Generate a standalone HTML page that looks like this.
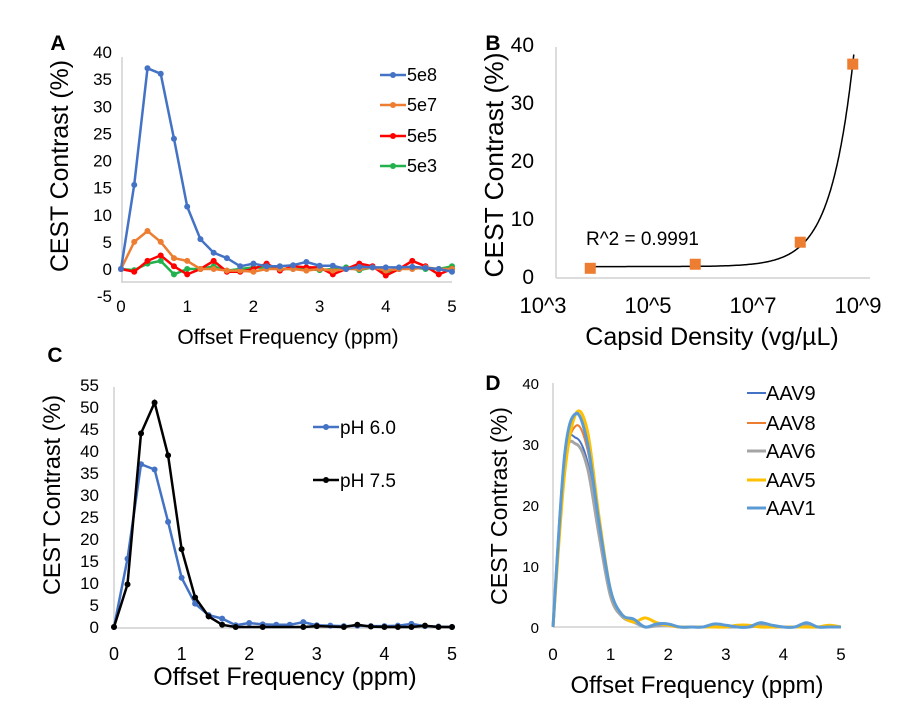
<!DOCTYPE html>
<html><head><meta charset="utf-8"><style>
body{margin:0;background:#fff}
svg text{font-family:"Liberation Sans",Arial,sans-serif;fill:#000}
</style></head><body>
<svg id="fig" width="912" height="720" xmlns="http://www.w3.org/2000/svg"></svg>
<script>
// ---------- data ----------
const offsets = [0,0.2,0.4,0.6,0.8,1,1.2,1.4,1.6,1.8,2,2.2,2.4,2.6,2.8,3,3.2,3.4,3.6,3.8,4,4.2,4.4,4.6,4.8,5];
const s5e8 = [0,15.5,37,36,24,11.5,5.5,3,2,0.5,1,0.5,0.5,0.7,1.3,0.6,0.6,0,0.4,0.3,0.3,0.3,0.4,0.2,0,-0.5];
const s5e7 = [0,5,7,5,2,1.5,0,0,-0.3,-0.3,-0.5,0,0,0,-0.3,0,-0.3,0,0,0.3,-0.3,0,0,0.3,0,0];
const s5e5 = [0,-0.5,1.5,2.5,0.5,-1,0,1.5,-0.5,-0.5,0,1,-0.3,0.5,0.3,0.3,-1,0,1,0.5,-1.2,0,1.5,0.5,-1,0];
const s5e3 = [0,-0.2,1,1.5,-1,0,0,0.5,-0.3,0,0.3,0.2,0,0,0,-0.2,0,0.3,-0.2,0.3,-0.5,0,0.3,0,0,0.5];
const yTicksA = [40,35,30,25,20,15,10,5,0,-5];
const xTicks = [0,1,2,3,4,5];

const densLog = [3.9,5.9,7.9,8.9];
const densContrast = [1.5,2.2,6.0,36.7];
const fitA = 1.8, fitB = 34.9/7.94e8;
const xTicksB = [3,5,7,9];
const yTicksB = [0,10,20,30,40];

const pH6 = [0,15.5,37,35.8,23.9,11.2,5.3,2.7,1.9,0.4,0.9,0.6,0.5,0.5,1.1,0.4,0.3,0.2,0.3,0.2,0.2,0.3,0.7,0.2,0.1,0];
const offsets75 = [0,0.2,0.4,0.6,0.8,1,1.2,1.4,1.6,1.8,2.2,2.8,3,3.4,3.6,3.8,4,4.2,4.4,4.6,4.8,5];
const pH75 = [0,9.7,44,51,39,17.7,6.7,2.4,0.5,0,0,0,0.2,0,0.5,0.1,0,0,0,0.3,0,0];
const yTicksC = [55,50,45,40,35,30,25,20,15,10,5,0];

const aav9 = [0,28,31,27,16,5.5,1.8,1,0,0.3,0.5,0,0,0,0.3,0.2,0,0,0.5,0.2,0,0,0.5,0,0,0];
const aav8 = [0,26,33,29,17,5.5,1.8,1,0,0.2,0.3,0,0,0,0.2,0,0,0,0.3,0,0,0,0.3,0,0,0];
const aav6 = [0,27,30,26,15,5,1.7,0.8,0,0.2,0.3,0,0,0,0.2,0,0,0,0.2,0,0,0,0.2,0,0,0];
const aav5 = [0,25,35,32,18,6,2,0.8,1.5,0.7,0.3,0,0,0,0,0,0.3,0.3,0,0,0,0,0,0,0.3,0];
const aav1 = [0,28,35,30,17,6,2,1.3,0,0.5,0.5,0,0,0,0.5,0.3,0,0,0.7,0.3,0,0,0.7,0,0,0];
const yTicksD = [0,10,20,30,40];

// ---------- helpers ----------
const NS="http://www.w3.org/2000/svg";
const svg=document.getElementById('fig');
function mk(tag,attrs,parent){const e=document.createElementNS(NS,tag);for(const k in attrs)e.setAttribute(k,attrs[k]);(parent||svg).appendChild(e);return e;}
function txt(s,x,y,size,anchor,parent,extra){const e=mk('text',Object.assign({x:x,y:y,'font-size':size,'text-anchor':anchor||'middle'},extra||{}),parent);e.textContent=s;return e;}
function lin(d0,d1,p0,p1){return v=>p0+(v-d0)*(p1-p0)/(d1-d0);}
function poly(xs,ys,fx,fy){return xs.map((x,i)=>fx(x).toFixed(1)+','+fy(ys[i]).toFixed(1)).join(' ');}
function smooth(xs,ys,fx,fy){const p=xs.map((x,i)=>[fx(x),fy(ys[i])]);let d='M'+p[0][0]+','+p[0][1];
 for(let i=0;i<p.length-1;i++){const p0=p[Math.max(i-1,0)],p1=p[i],p2=p[i+1],p3=p[Math.min(i+2,p.length-1)];
 const c1=[p1[0]+(p2[0]-p0[0])/6,p1[1]+(p2[1]-p0[1])/6],c2=[p2[0]-(p3[0]-p1[0])/6,p2[1]-(p3[1]-p1[1])/6];
 d+=' C'+c1[0].toFixed(1)+','+c1[1].toFixed(1)+' '+c2[0].toFixed(1)+','+c2[1].toFixed(1)+' '+p2[0].toFixed(1)+','+p2[1].toFixed(1);}return d;}
function ytitle(g,x,y,size,len){return txt('CEST Contrast (%)',0,0,size,'middle',g,{transform:'translate('+x+','+y+') rotate(-90)',textLength:len,lengthAdjust:'spacingAndGlyphs'});}

// ---------- Panel A ----------
const gA=mk('g',{});  
const xA=lin(0,5,121,452), yA=lin(0,40,269,52);
txt('A',58,50,21,'middle',gA,{'font-weight':'bold'});
mk('line',{x1:122,y1:57,x2:122,y2:282,stroke:'#d0d0d0','stroke-width':1.5},gA);
mk('line',{x1:121,y1:282,x2:452,y2:282,stroke:'#d0d0d0','stroke-width':1.5},gA);
yTicksA.forEach(t=>{const e=txt(String(t),112,yA(t)+6,17,'end',gA);});
xTicks.forEach(t=>{const e=txt(String(t),xA(t),312,17,'middle',gA);});
txt('Offset Frequency (ppm)',288,344,21,'middle',gA);
ytitle(gA,68,166,25,212);
[[s5e8,'#4472c4','5e8',75],[s5e7,'#ed7d31','5e7',105],[s5e5,'#ff0000','5e5',136],[s5e3,'#22b14c','5e3',166]].reverse().forEach(([d,c,n,ly])=>{
 const l=mk('polyline',{points:poly(offsets,d,xA,yA),fill:'none',stroke:c,'stroke-width':2.5},gA);
  
 offsets.forEach((x,i)=>{const m=mk('circle',{cx:xA(x),cy:yA(d[i]),r:3,fill:c},gA);});
 const lg=mk('g',{},gA);  
 mk('line',{x1:380,y1:ly,x2:406,y2:ly,stroke:c,'stroke-width':2.5},lg); mk('circle',{cx:393,cy:ly,r:3,fill:c},lg);
 txt(n,407,ly+6,18,'start',lg);
});

// ---------- Panel B ----------
const gB=mk('g',{});  
const xB=lin(3,9,543,858), yB=lin(0,40,277,45);
txt('B',493,50,21,'middle',gB,{'font-weight':'bold'});
mk('line',{x1:556,y1:47,x2:556,y2:278,stroke:'#d0d0d0','stroke-width':1.5},gB);
mk('line',{x1:556,y1:278,x2:870,y2:278,stroke:'#d0d0d0','stroke-width':1.5},gB);
yTicksB.forEach(t=>{const e=txt(String(t),534,yB(t)+7,21,'end',gB);});
xTicksB.forEach(t=>{const e=txt('10^'+t,xB(t),313,22,'middle',gB);});
txt('Capsid Density (vg/µL)',712,345,25,'middle',gB);
ytitle(gB,503,165,26,225);
let fd=''; for(let L=densLog[0];L<=densLog[3]+0.02;L+=0.02){fd+=(fd?' L':'M')+xB(L).toFixed(1)+','+yB(fitA+fitB*Math.pow(10,L)).toFixed(1);}
const tr=mk('path',{d:fd,fill:'none',stroke:'#000','stroke-width':1.5},gB);  
densLog.forEach((x,i)=>{const m=mk('rect',{x:xB(x)-5.5,y:yB(densContrast[i])-5.5,width:11,height:11,fill:'#ed7d31'},gB);});
const r2=txt('R^2 = 0.9991',586,245,19,'start',gB);  

// ---------- Panel C ----------
const gC=mk('g',{});  
const xC=lin(0,5,114,452), yC=lin(0,55,627,385);
txt('C',55,362,21,'middle',gC,{'font-weight':'bold'});
mk('line',{x1:114,y1:387,x2:114,y2:628,stroke:'#d0d0d0','stroke-width':1.5},gC);
mk('line',{x1:114,y1:628,x2:452,y2:628,stroke:'#d0d0d0','stroke-width':1.5},gC);
yTicksC.forEach(t=>{const e=txt(String(t),99,yC(t)+6,17,'end',gC);});
xTicks.forEach(t=>{const e=txt(String(t),xC(t),660,18,'middle',gC);});
txt('Offset Frequency (ppm)',285,685,25,'middle',gC);
ytitle(gC,60,495,24,200);
[[offsets,pH6,'#4472c4','pH 6.0',427],[offsets75,pH75,'#000','pH 7.5',480]].forEach(([xs,d,c,n,ly])=>{
 const l=mk('polyline',{points:poly(xs,d,xC,yC),fill:'none',stroke:c,'stroke-width':2.5},gC);
  
 xs.forEach((x,i)=>{const m=mk('circle',{cx:xC(x),cy:yC(d[i]),r:3,fill:c},gC);});
 const lg=mk('g',{},gC);  
 mk('line',{x1:313,y1:ly,x2:339,y2:ly,stroke:c,'stroke-width':2.5},lg); mk('circle',{cx:326,cy:ly,r:3,fill:c},lg);
 txt(n,340,ly+7,19,'start',lg);
});

// ---------- Panel D ----------
const gD=mk('g',{});  
const xD=lin(0,5,553,841), yD=lin(0,40,627,383);
txt('D',493,390,21,'middle',gD,{'font-weight':'bold'});
mk('line',{x1:553,y1:383,x2:553,y2:627,stroke:'#d0d0d0','stroke-width':1.5},gD);
mk('line',{x1:553,y1:627,x2:841,y2:627,stroke:'#d0d0d0','stroke-width':1.5},gD);
yTicksD.forEach(t=>{const e=txt(String(t),539,yD(t)+6,15,'end',gD);});
xTicks.forEach(t=>{const e=txt(String(t),xD(t),660,17,'middle',gD);});
txt('Offset Frequency (ppm)',697,693,24,'middle',gD);
ytitle(gD,507,506,23,198);
[[aav9,'#4472c4','AAV9',393,2],[aav8,'#ed7d31','AAV8',423,2],[aav6,'#a5a5a5','AAV6',451,3],[aav5,'#ffc000','AAV5',480,3],[aav1,'#5b9bd5','AAV1',508,3]].forEach(([d,c,n,ly,w])=>{
 const l=mk('path',{d:smooth(offsets,d,xD,yD),fill:'none',stroke:c,'stroke-width':w},gD);
  
 const lg=mk('g',{},gD);  
 mk('line',{x1:747,y1:ly,x2:766,y2:ly,stroke:c,'stroke-width':w},lg);
 txt(n,766,ly+7,20,'start',lg);
});
</script>
</body></html>
